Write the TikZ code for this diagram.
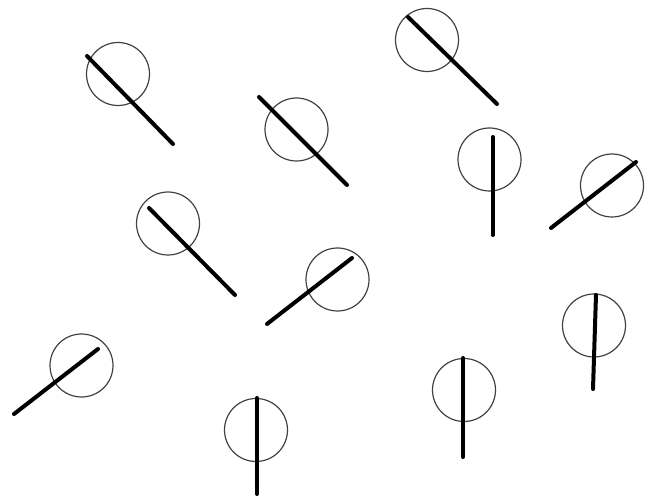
\documentclass[tikz,border=0pt]{standalone}
\begin{document}
\begin{tikzpicture}[x=1pt,y=-1pt,
  ring/.style={draw=black!75,circle,line width=1.2pt,minimum size=63pt,inner sep=0pt},
  pin/.style={line width=4pt,line cap=round,black}]
\useasboundingbox (0,0) rectangle (654,497);
\node[ring] (c1) at (118,74) {};
\coordinate (a1) at (87,56); \coordinate (b1) at (173,144);
\node[ring] (c2) at (296.5,129.5) {};
\coordinate (a2) at (259,97); \coordinate (b2) at (347,185);
\node[ring] (c3) at (427,40) {};
\coordinate (a3) at (408,17); \coordinate (b3) at (497,104);
\node[ring] (c4) at (489.5,159.5) {};
\coordinate (a4) at (492.5,137); \coordinate (b4) at (492.5,235);
\node[ring] (c5) at (612,185.5) {};
\coordinate (a5) at (551,228); \coordinate (b5) at (636,162);
\node[ring] (c6) at (168,223.5) {};
\coordinate (a6) at (149,208); \coordinate (b6) at (235,295);
\node[ring] (c7) at (337.5,279.5) {};
\coordinate (a7) at (267,324); \coordinate (b7) at (352,258);
\node[ring] (c8) at (81.5,365.5) {};
\coordinate (a8) at (14,414); \coordinate (b8) at (98,349);
\node[ring] (c9) at (256,430) {};
\coordinate (a9) at (257,398); \coordinate (b9) at (257,494);
\node[ring] (c10) at (464,390) {};
\coordinate (a10) at (463,358); \coordinate (b10) at (463,457);
\node[ring] (c11) at (594,325.5) {};
\coordinate (a11) at (596,295); \coordinate (b11) at (593,389);
\foreach \i in {1,...,11} \draw[pin] (a\i) -- (b\i);
\end{tikzpicture}
\end{document}
